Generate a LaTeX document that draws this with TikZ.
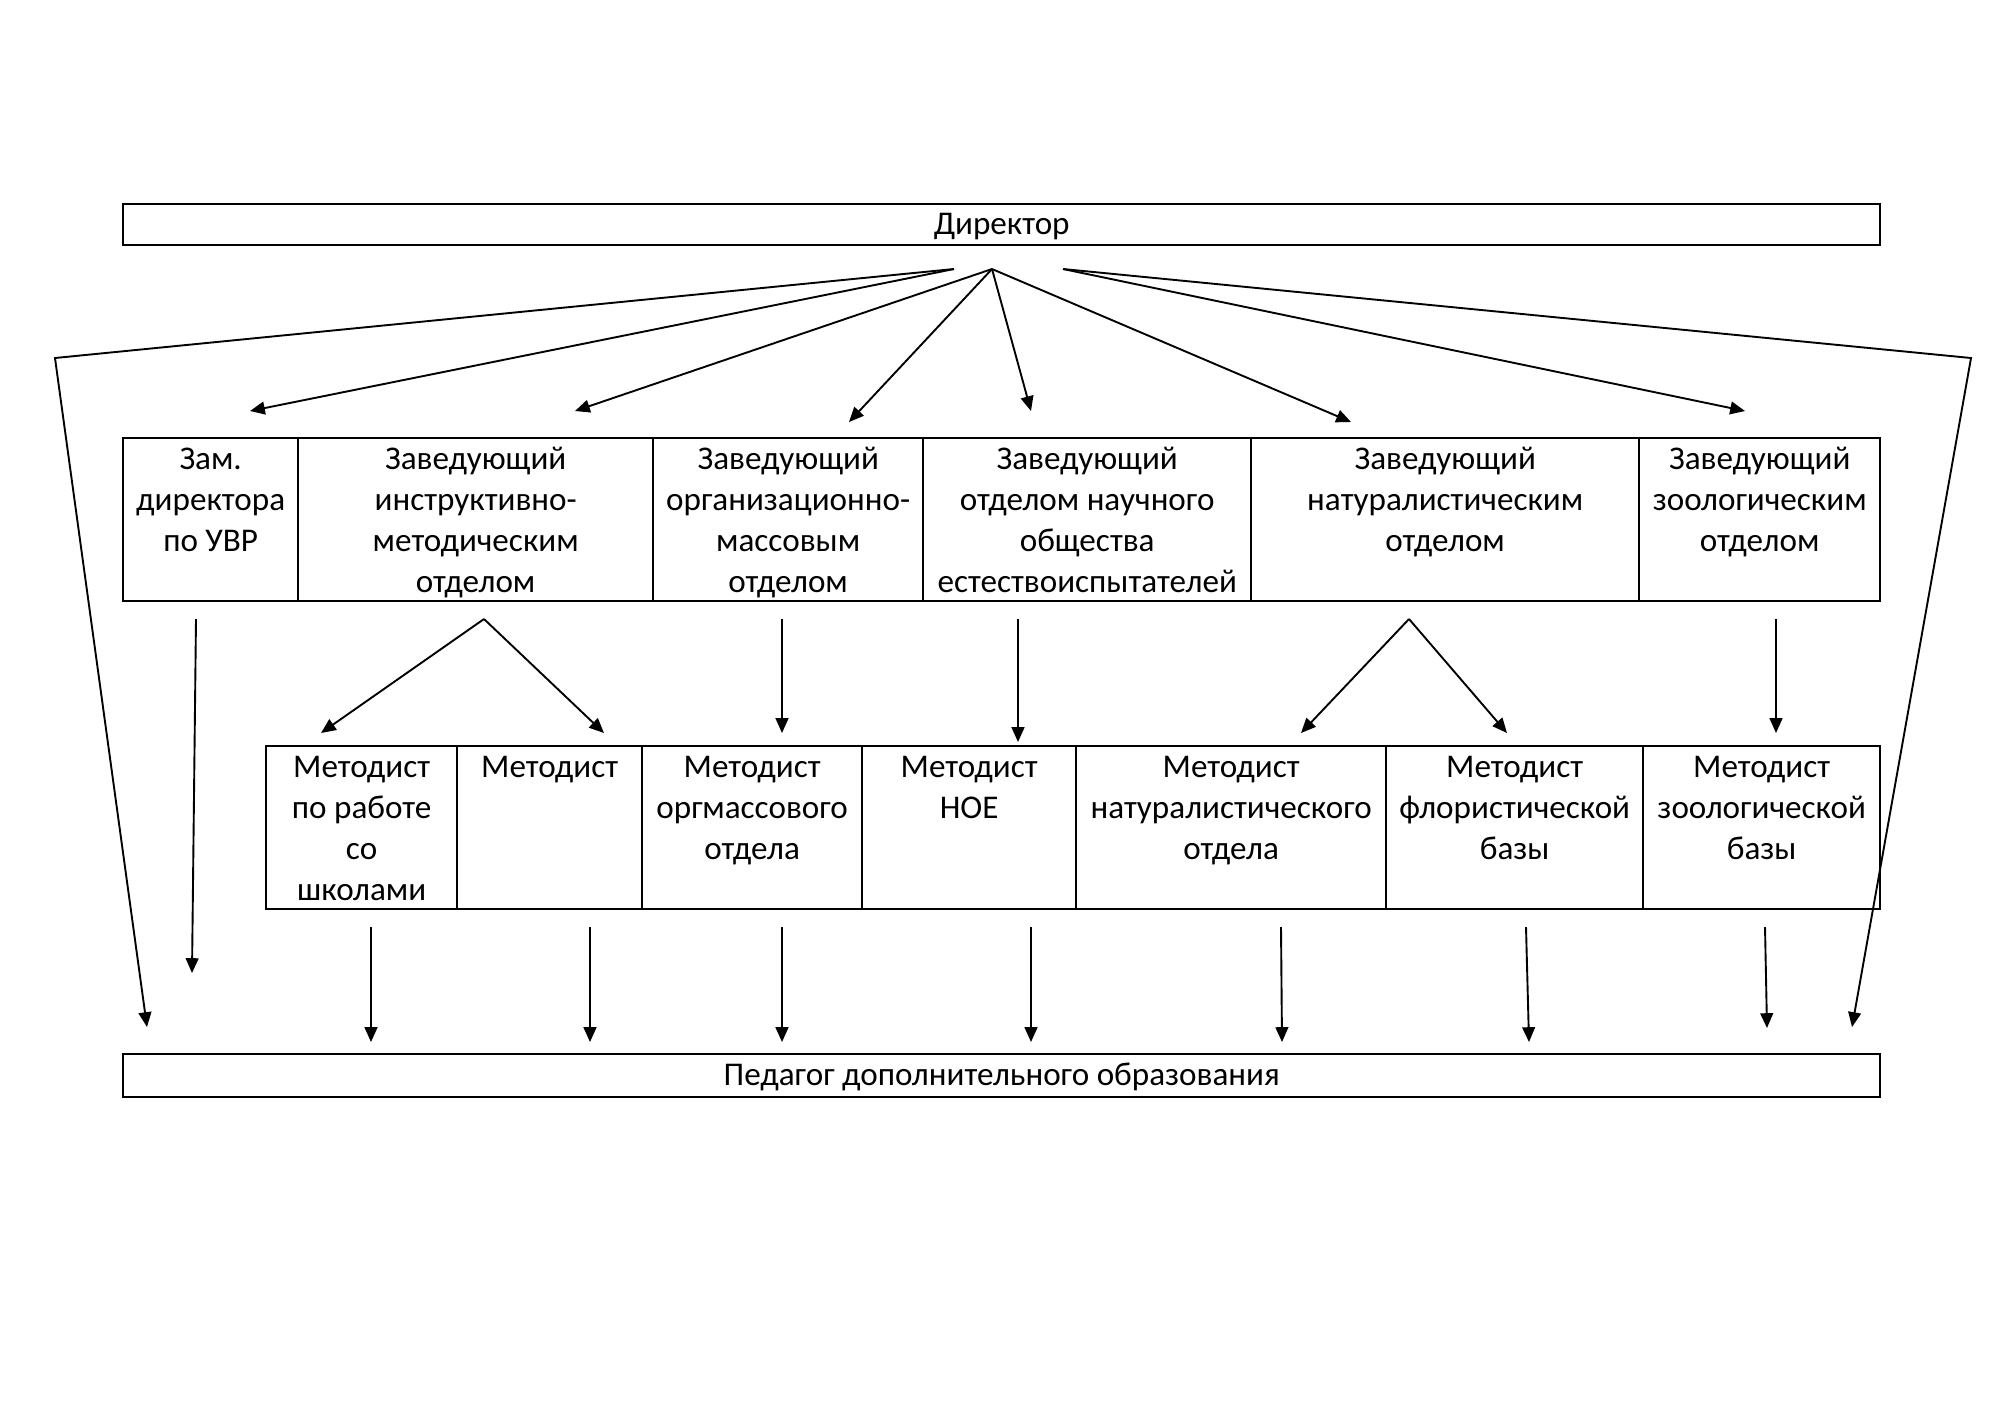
\documentclass[tikz,border=0pt]{standalone}
\usepackage{fontspec}
\setmainfont{Carlito}
\usepackage{tikz}
\usetikzlibrary{arrows.meta}
\newlength\pxu
\setlength\pxu{0.01485cm}

\tikzset{
  box/.style={draw, line width=1pt, inner sep=0pt, anchor=north west,
    font=\fontsize{14}{17.3}\selectfont},
  wide/.style={box, text height=8.2pt, text depth=0pt},
  txt/.style={anchor=north, align=center, inner xsep=0pt, inner ysep=1.6pt,
    font=\fontsize{14}{17.3}\selectfont},
  arr/.style={-{Triangle[length=2.2mm,width=1.9mm]}, line width=0.8pt},
}

\begin{document}
\begin{tikzpicture}[x=0.01485cm,y=-0.01485cm]
\useasboundingbox (0,0) rectangle (2000,1414);

% top and bottom
\node[wide, minimum width=1757*\pxu, minimum height=41*\pxu] (dir) at (122,203) {Директор};
\node[wide, minimum width=1757*\pxu, minimum height=43*\pxu] (ped) at (122,1053) {Педагог дополнительного образования};

% heads of departments
\node[box, minimum width=175*\pxu, minimum height=163*\pxu] (zam)   at (122,437)  {};
\node[box, minimum width=355*\pxu, minimum height=163*\pxu] (instr) at (297,437)  {};
\node[box, minimum width=270*\pxu, minimum height=163*\pxu] (org)   at (652,437)  {};
\node[box, minimum width=328*\pxu, minimum height=163*\pxu] (noe)   at (922,437)  {};
\node[box, minimum width=388*\pxu, minimum height=163*\pxu] (nat)   at (1250,437) {};
\node[box, minimum width=241*\pxu, minimum height=163*\pxu] (zoo)   at (1638,437) {};

\node[txt] (zam-t)   at (zam.north)   {\strut Зам.\\директора\\по УВР};
\node[txt] (instr-t) at (instr.north) {\strut Заведующий\\инструктивно-\\методическим\\отделом};
\node[txt] (org-t)   at (org.north)   {\strut Заведующий\\организационно-\\массовым\\отделом};
\node[txt] (noe-t)   at (noe.north)   {\strut Заведующий\\отделом научного\\общества\\естествоиспытателей};
\node[txt] (nat-t)   at (nat.north)   {\strut Заведующий\\натуралистическим\\отделом};
\node[txt] (zoo-t)   at (zoo.north)   {\strut Заведующий\\зоологическим\\отделом};

% methodists
\node[box, minimum width=191*\pxu, minimum height=163*\pxu] (mshk) at (265,745)  {};
\node[box, minimum width=185*\pxu, minimum height=163*\pxu] (mins) at (456,745)  {};
\node[box, minimum width=220*\pxu, minimum height=163*\pxu] (morg) at (641,745)  {};
\node[box, minimum width=214*\pxu, minimum height=163*\pxu] (mnoe) at (861,745)  {};
\node[box, minimum width=310*\pxu, minimum height=163*\pxu] (mnat) at (1075,745) {};
\node[box, minimum width=257*\pxu, minimum height=163*\pxu] (mflo) at (1385,745) {};
\node[box, minimum width=237*\pxu, minimum height=163*\pxu] (mzoo) at (1642,745) {};

\node[txt] (mshk-t) at (mshk.north) {\strut Методист\\по работе\\со\\школами};
\node[txt] (mins-t) at (mins.north) {\strut Методист};
\node[txt] (morg-t) at (morg.north) {\strut Методист\\оргмассового\\отдела};
\node[txt] (mnoe-t) at (mnoe.north) {\strut Методист\\НОЕ};
\node[txt] (mnat-t) at (mnat.north) {\strut Методист\\натуралистического\\отдела};
\node[txt] (mflo-t) at (mflo.north) {\strut Методист\\флористической\\базы};
\node[txt] (mzoo-t) at (mzoo.north) {\strut Методист\\зоологической\\базы};

% arrow ends
\coordinate (d1) at (954,269);
\coordinate (d2) at (992,269);
\coordinate (d3) at (1063,269);
\coordinate (cl) at (55,358);
\coordinate (cr) at (1971,358);
\coordinate (a1) at (484,619);
\coordinate (a2) at (1409,619);

% director
\draw[arr] (d1) -- (cl) -- (147,1027);
\draw[arr] (d1) -- (250,411);
\draw[arr] (d2) -- (575,411);
\draw[arr] (d2) -- (849,422);
\draw[arr] (d2) -- (1031,411);
\draw[arr] (d2) -- (1351,422);
\draw[arr] (d3) -- (1745,411);
\draw[arr] (d3) -- (cr) -- (1852,1027);

% heads -> methodists
\draw[arr] (196,619) -- (192,973);
\draw[arr] (a1) -- (321,733);
\draw[arr] (a1) -- (604,733);
\draw[arr] (782,619) -- (782,733);
\draw[arr] (1018,619) -- (1018,742);
\draw[arr] (a2) -- (1301,733);
\draw[arr] (a2) -- (1507,733);
\draw[arr] (1776,619) -- (1776,733);

% methodists -> teacher
\draw[arr] (371,927) -- (371,1042);
\draw[arr] (590,927) -- (590,1042);
\draw[arr] (782,927) -- (782,1042);
\draw[arr] (1031,927) -- (1031,1042);
\draw[arr] (1281,927) -- (1282,1042);
\draw[arr] (1526,927) -- (1529,1042);
\draw[arr] (1765,927) -- (1767,1028);

\end{tikzpicture}
\end{document}
